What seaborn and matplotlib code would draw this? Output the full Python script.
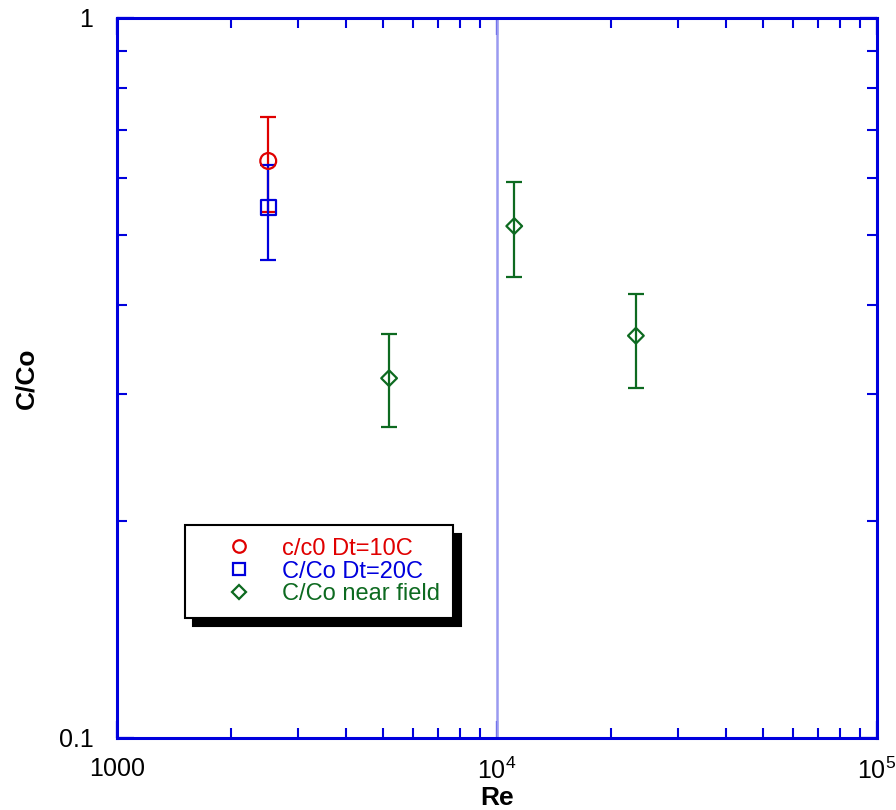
import numpy as np
import pandas as pd
import matplotlib
matplotlib.use("Agg")
import matplotlib.pyplot as plt
import seaborn as sns
from matplotlib.lines import Line2D
from matplotlib.ticker import FixedLocator, NullFormatter, FixedFormatter

# ---- data ----
series = ["c/c0 Dt=10C", "C/Co Dt=20C", "C/Co near field"]
re_10C = [2500]
c_10C = [0.633]
lo_10C = [0.538]
hi_10C = [0.729]

re_20C = [2500]
c_20C = [0.546]
lo_20C = [0.461]
hi_20C = [0.625]

re_nf = [5200, 11100, 23200]
c_nf = [0.316, 0.514, 0.362]
lo_nf = [0.270, 0.437, 0.306]
hi_nf = [0.364, 0.592, 0.414]

x_ticks = [1000, 10000, 100000]
x_ticklabels = ["$1000$", "$10^4$", "$10^5$"]
y_ticks = [0.1, 1]
y_ticklabels = ["0.1", "1"]

colors = ["#e00000", "#0000dd", "#0d6a20"]
markers = ["o", "s", "D"]
msizes = [130, 120, 64]

df = pd.concat([
    pd.DataFrame({"Re": re_10C, "C": c_10C, "lo": lo_10C, "hi": hi_10C, "series": series[0]}),
    pd.DataFrame({"Re": re_20C, "C": c_20C, "lo": lo_20C, "hi": hi_20C, "series": series[1]}),
    pd.DataFrame({"Re": re_nf, "C": c_nf, "lo": lo_nf, "hi": hi_nf, "series": series[2]}),
], ignore_index=True)

sns.set_style("white")
plt.rcParams["font.family"] = ["Liberation Sans", "DejaVu Sans"]
plt.rcParams["mathtext.default"] = "regular"
plt.rcParams["text.color"] = "black"
plt.rcParams["axes.labelcolor"] = "black"

fig = plt.figure(figsize=(8.96, 8.10), dpi=100)
ax = fig.add_axes([0.1306, 0.0889, 0.8482, 0.8889])

ax.set_xscale("log")
ax.set_yscale("log")
ax.set_xlim(1000, 100000)
ax.set_ylim(0.1, 1)

# vertical reference line at 1e4
ax.axvline(10000, color="#9a9af0", lw=1.8, zorder=1)

# error bars + markers
for i, s in enumerate(series):
    d = df[df["series"] == s]
    ax.errorbar(d["Re"], d["C"],
                yerr=[d["C"] - d["lo"], d["hi"] - d["C"]],
                fmt="none", ecolor=colors[i], elinewidth=1.6,
                capsize=6, capthick=1.6, zorder=2 + i)

for i, s in enumerate(series):
    d = df[df["series"] == s]
    sns.scatterplot(data=d, x="Re", y="C", ax=ax, marker=markers[i],
                    s=msizes[i], color=colors[i], legend=False, zorder=5 + i)
    coll = ax.collections[-1]
    coll.set_edgecolor(colors[i])
    coll.set_facecolor("none")
    coll.set_linewidth(1.6)

# axes styling
blue = "#0000dd"
for sp in ax.spines.values():
    sp.set_color(blue)
    sp.set_linewidth(2.2)
    sp.set_visible(True)

ax.xaxis.set_major_locator(FixedLocator(x_ticks))
ax.xaxis.set_major_formatter(FixedFormatter(x_ticklabels))
ax.yaxis.set_major_locator(FixedLocator(y_ticks))
ax.yaxis.set_major_formatter(FixedFormatter(y_ticklabels))
xminor = [m * 10 ** e for e in (3, 4) for m in range(2, 10)]
yminor = [m * 0.1 for m in range(2, 10)]
ax.xaxis.set_minor_locator(FixedLocator(xminor))
ax.yaxis.set_minor_locator(FixedLocator(yminor))
ax.xaxis.set_minor_formatter(NullFormatter())
ax.yaxis.set_minor_formatter(NullFormatter())

ax.tick_params(which="both", direction="in", color=blue,
               top=True, right=True, bottom=True, left=True,
               labelsize=18, labelcolor="black")
ax.tick_params(which="major", length=12, width=1.6)
ax.tick_params(which="minor", length=7, width=1.5)
ax.tick_params(axis="y", which="major", pad=17)
ax.tick_params(axis="x", which="major", pad=14)

ax.set_xlabel("Re", fontsize=19, fontweight="bold")
ax.set_ylabel("C/Co", fontsize=19, fontweight="bold")
ax.xaxis.set_label_coords(0.5, -0.066)
ax.yaxis.set_label_coords(-0.104, 0.5)

# legend
handles = [Line2D([], [], linestyle="none", marker=markers[i], markersize=9 if i < 2 else 7,
                  markerfacecolor="none", markeredgecolor=colors[i], markeredgewidth=1.6)
           for i in range(3)]
leg = ax.legend(handles, series, loc="lower left", bbox_to_anchor=(0.0895, 0.167),
                fontsize=17, labelcolor=colors, frameon=True, fancybox=False,
                shadow={"ox": 6, "oy": -6, "color": "black", "alpha": 1},
                borderpad=0.52, labelspacing=0.04, handletextpad=0.1,
                handlelength=3.5, borderaxespad=0)
leg.get_frame().set_edgecolor("black")
leg.get_frame().set_linewidth(1.5)
leg.get_frame().set_facecolor("white")

fig.savefig("out.png", dpi=100)
